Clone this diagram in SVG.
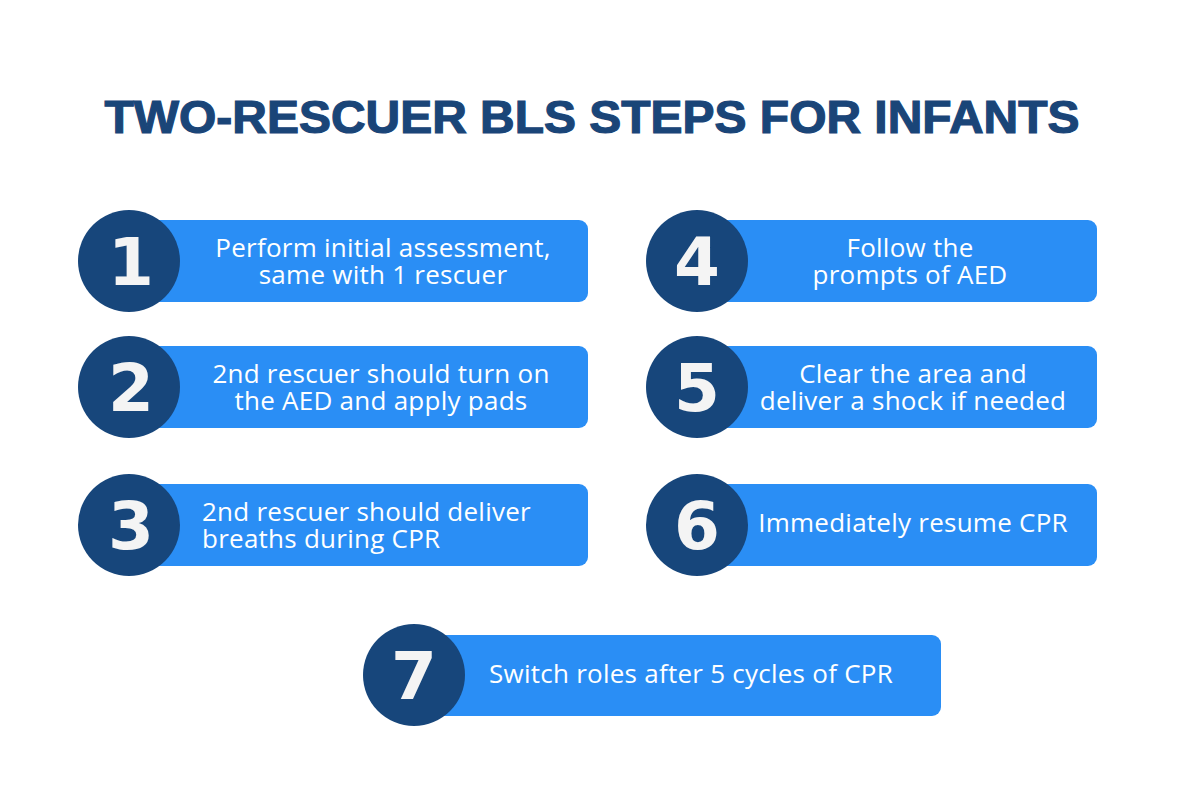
<svg xmlns="http://www.w3.org/2000/svg" width="1200" height="786" viewBox="0 0 1200 786">
<style>
.box{fill:#2a8ef5}
.circ{fill:#17467b}
.num{font-family:"DejaVu Sans","Liberation Sans",sans-serif;font-weight:bold;font-size:66px;fill:#f4f4f4;text-anchor:middle}
.t{font-family:"Open Sans","Liberation Sans",sans-serif;font-size:26px;letter-spacing:0.25px;fill:#ffffff;text-anchor:middle}
.title{font-family:"Liberation Sans",sans-serif;font-weight:bold;font-size:46px;fill:#1a4578;text-anchor:middle;stroke:#1a4578;stroke-width:1.2}
</style>
<rect width="1200" height="786" fill="#ffffff"/>
<text class="title" x="592" y="133" textLength="975" lengthAdjust="spacingAndGlyphs">TWO-RESCUER BLS STEPS FOR INFANTS</text>
<g id="step1">
<rect class="box" x="150" y="220" width="438" height="82" rx="9"/>
<circle class="circ" cx="129" cy="261" r="51"/>
<text class="num" x="131" y="285">1</text>
<text class="t" x="383" y="257">Perform initial assessment,</text>
<text class="t" x="383" y="284">same with 1 rescuer</text>
</g>
<g id="step2">
<rect class="box" x="150" y="346" width="438" height="82" rx="9"/>
<circle class="circ" cx="129" cy="387" r="51"/>
<text class="num" x="131" y="411">2</text>
<text class="t" x="381" y="383">2nd rescuer should turn on</text>
<text class="t" x="381" y="410">the AED and apply pads</text>
</g>
<g id="step3">
<rect class="box" x="150" y="484" width="438" height="82" rx="9"/>
<circle class="circ" cx="129" cy="525" r="51"/>
<text class="num" x="131" y="549">3</text>
<text class="t" x="202" y="521" style="text-anchor:start">2nd rescuer should deliver</text>
<text class="t" x="202" y="548" style="text-anchor:start">breaths during CPR</text>
</g>
<g id="step4">
<rect class="box" x="717" y="220" width="380" height="82" rx="9"/>
<circle class="circ" cx="697" cy="261" r="51"/>
<text class="num" x="697" y="285">4</text>
<text class="t" x="910" y="257">Follow the</text>
<text class="t" x="910" y="284">prompts of AED</text>
</g>
<g id="step5">
<rect class="box" x="717" y="346" width="380" height="82" rx="9"/>
<circle class="circ" cx="697" cy="387" r="51"/>
<text class="num" x="697" y="411">5</text>
<text class="t" x="913" y="383">Clear the area and</text>
<text class="t" x="913" y="410">deliver a shock if needed</text>
</g>
<g id="step6">
<rect class="box" x="717" y="484" width="380" height="82" rx="9"/>
<circle class="circ" cx="697" cy="525" r="51"/>
<text class="num" x="697" y="549">6</text>
<text class="t" x="913" y="532">Immediately resume CPR</text>
</g>
<g id="step7">
<rect class="box" x="430" y="635" width="511" height="81" rx="9"/>
<circle class="circ" cx="414" cy="675" r="51"/>
<text class="num" x="414" y="699">7</text>
<text class="t" x="691" y="683">Switch roles after 5 cycles of CPR</text>
</g>
<g id="connectors"/>
</svg>
